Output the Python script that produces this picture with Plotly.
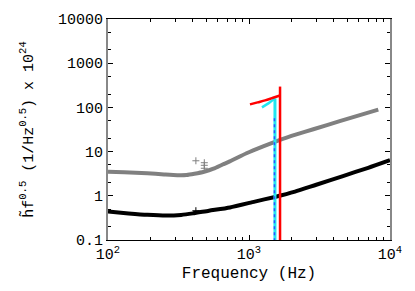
import plotly.graph_objects as go

# ---- data ----
gray_freq = [100, 130, 190, 250, 310, 360, 410, 480, 560, 650, 730, 960, 1260, 1660, 2200, 2860, 4400, 8260]
gray_val = [3.52, 3.42, 3.24, 3.05, 2.93, 2.95, 3.15, 3.5, 4.1, 5.1, 6.0, 9.2, 13.2, 18.5, 24.8, 32, 49, 89]

black_freq = [100, 140, 190, 260, 330, 400, 520, 733, 1100, 1500, 2120, 3000, 4640, 7000, 10000]
black_val = [0.44, 0.40, 0.372, 0.358, 0.37, 0.40, 0.46, 0.546, 0.74, 0.93, 1.24, 1.78, 2.8, 4.3, 6.4]

gray_pts_freq = [420, 482, 482, 482]
gray_pts_val = [6.2, 5.6, 4.9, 4.2]
black_pts_freq = [420]
black_pts_val = [0.46]

red_freq = [1016, 1150, 1300, 1480, 1660]
red_val = [117, 130, 144, 165, 186]
red_vline_freq = [1660, 1660]
red_vline_val = [296, 0.1]

cyan_freq = [1236, 1380, 1528]
cyan_val = [100, 125, 160]
cyan_vline_freq = [1528, 1528]
cyan_vline_val = [160, 0.1]

blue_vline_freq = [1515, 1515]
blue_vline_val = [57, 0.1]

x_tickvals = [100, 1000, 10000]
x_ticktext = ["10<sup>2</sup>", "10<sup>3</sup>", "10<sup>4</sup>"]
y_tickvals = [0.1, 1, 10, 100, 1000, 10000]
y_ticktext = ["0.1", "1", "10", "100", "1000", "10000"]

FONT = '"Liberation Mono", "Courier New", Courier, monospace'

fig = go.Figure()
fig.add_trace(go.Scatter(x=gray_freq, y=gray_val, mode="lines",
                         line=dict(color="#808080", width=4, shape="spline", smoothing=0.6),
                         showlegend=False))
fig.add_trace(go.Scatter(x=black_freq, y=black_val, mode="lines",
                         line=dict(color="black", width=4, shape="spline", smoothing=0.6),
                         showlegend=False))
fig.add_trace(go.Scatter(x=gray_pts_freq, y=gray_pts_val, mode="markers",
                         marker=dict(symbol="cross-thin", size=5, line=dict(color="#808080", width=1)),
                         showlegend=False))
fig.add_trace(go.Scatter(x=black_pts_freq, y=black_pts_val, mode="markers",
                         marker=dict(symbol="cross-thin", size=5, line=dict(color="black", width=1)),
                         showlegend=False))
fig.add_trace(go.Scatter(x=cyan_freq, y=cyan_val, mode="lines",
                         line=dict(color="#22e6f0", width=2.5, shape="spline"), showlegend=False))
fig.add_trace(go.Scatter(x=cyan_vline_freq, y=cyan_vline_val, mode="lines",
                         line=dict(color="#22e6f0", width=3), showlegend=False))
fig.add_trace(go.Scatter(x=blue_vline_freq, y=blue_vline_val, mode="lines",
                         line=dict(color="#3050ff", width=1.5, dash="dot"), showlegend=False))
fig.add_trace(go.Scatter(x=red_freq, y=red_val, mode="lines",
                         line=dict(color="#ff0000", width=2.5, shape="spline"), showlegend=False))
fig.add_trace(go.Scatter(x=red_vline_freq, y=red_vline_val, mode="lines",
                         line=dict(color="#ff0000", width=2.5), showlegend=False))

# page body has an 8px margin, so the figure is sized/positioned to compensate
fig.update_layout(
    width=407, height=283,
    margin=dict(l=100, r=25, t=11, b=51),
    paper_bgcolor="white", plot_bgcolor="white",
    font=dict(family=FONT, size=15, color="black"),
    showlegend=False,
)
fig.update_xaxes(
    type="log", range=[2, 4], automargin=False,
    tickmode="array", tickvals=x_tickvals, ticktext=x_ticktext,
    ticks="inside", ticklen=5, tickcolor="black",
    showline=True, linecolor="black", linewidth=1, mirror="ticks",
    showgrid=False, zeroline=False,
    minor=dict(ticks="inside", ticklen=3, tickcolor="black", dtick="D1", showgrid=False),
    title=dict(text="Frequency (Hz)", font=dict(family=FONT, size=16), standoff=3),
    tickfont=dict(family=FONT, size=15),
)
fig.update_yaxes(
    type="log", range=[-1, 4], automargin=False,
    tickmode="array", tickvals=y_tickvals, ticktext=y_ticktext,
    ticks="inside", ticklen=5, tickcolor="black",
    showline=True, linecolor="#888888", linewidth=2, mirror="ticks",
    showgrid=False, zeroline=False,
    minor=dict(ticks="inside", ticklen=3, tickcolor="black", dtick="D2", showgrid=False),
    title=dict(text="h\u0303f<sup>0.5</sup> (1/Hz<sup>0.5</sup>) x 10<sup>24</sup>",
               font=dict(family=FONT, size=15), standoff=21),
    tickfont=dict(family=FONT, size=15),
)

fig.write_html("out.html")
